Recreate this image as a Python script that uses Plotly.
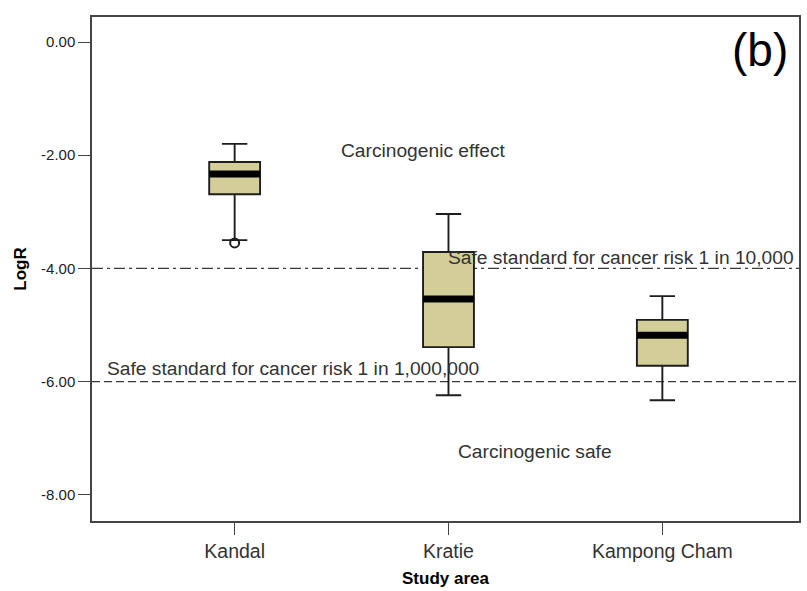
import plotly.graph_objects as go

# Study areas and LogR summary statistics for each box
areas = ["Kandal", "Kratie", "Kampong Cham"]
upper_whisker = [-1.80, -3.04, -4.49]
q3 = [-2.12, -3.71, -4.91]
median = [-2.33, -4.54, -5.18]
q1 = [-2.69, -5.39, -5.72]
lower_whisker = [-3.50, -6.24, -6.33]

# Outlying observations (area index, LogR)
outlier_area = [0]
outlier_value = [-3.55]

# Reference risk thresholds
risk_10k = -4.0
risk_1m = -6.0

y_ticks = [0, -2, -4, -6, -8]
y_tick_text = ["0.00", "-2.00", "-4.00", "-6.00", "-8.00"]

BOX_W = 0.238
FILL = "#d3ce98"
EDGE = "#1e1e1e"
FONT = "Liberation Sans, Arial, sans-serif"

xs = list(range(len(areas)))

fig = go.Figure()

fig.add_trace(go.Box(
    x=xs, q1=q1, median=median, q3=q3,
    lowerfence=lower_whisker, upperfence=upper_whisker,
    width=BOX_W, whiskerwidth=0.5,
    fillcolor=FILL, line=dict(color=EDGE, width=1.9),
    boxpoints=False, hoverinfo="skip", showlegend=False,
))

# Heavy median bars drawn over the boxes
for i, m in zip(xs, median):
    fig.add_trace(go.Scatter(
        x=[i - BOX_W / 2, i + BOX_W / 2], y=[m, m], mode="lines",
        line=dict(color="black", width=7), showlegend=False, hoverinfo="skip",
    ))

fig.add_trace(go.Scatter(
    x=outlier_area, y=outlier_value, mode="markers",
    marker=dict(symbol="circle-open", size=9, color=EDGE, line=dict(width=2, color=EDGE)),
    showlegend=False, hoverinfo="skip",
))

# Threshold lines (under the boxes)
fig.add_shape(type="line", xref="paper", x0=0, x1=1, yref="y", y0=risk_10k, y1=risk_10k,
              line=dict(color="#3a3a3a", width=1.2, dash="11px,4px,3px,4px"), layer="below")
fig.add_shape(type="line", xref="paper", x0=0, x1=1, yref="y", y0=risk_1m, y1=risk_1m,
              line=dict(color="#3a3a3a", width=1.2, dash="8px,4px"), layer="below")

txt = dict(family=FONT, size=19.2, color="#333333")
fig.add_annotation(x=0.881, y=-1.91, text="Carcinogenic effect", showarrow=False, font=txt)
fig.add_annotation(x=1.403, y=-7.23, text="Carcinogenic safe", showarrow=False, font=txt)
fig.add_annotation(x=0.988, y=risk_10k, yshift=11, xanchor="left",
                   text="Safe standard for cancer risk 1 in 10,000", showarrow=False, font=txt)
fig.add_annotation(x=-0.606, y=risk_1m, yshift=13, xanchor="left",
                   text="Safe standard for cancer risk 1 in 1,000,000", showarrow=False, font=txt)
fig.add_annotation(xref="paper", yref="paper", x=0.945, y=0.9345,
                   xanchor="center", yanchor="middle", text="(b)", showarrow=False,
                   font=dict(family=FONT, size=46, color="black"))

fig.update_layout(
    width=807, height=591,
    margin=dict(l=92, r=6, t=17, b=70),
    plot_bgcolor="white", paper_bgcolor="white",
    font=dict(family=FONT, color="#222222"),
)
fig.update_xaxes(
    range=[-0.667, 2.639], tickvals=xs, ticktext=areas,
    showgrid=False, zeroline=False,
    showline=True, mirror=True, linecolor="#444444", linewidth=1.5,
    ticks="outside", ticklen=12, tickwidth=1.3, tickcolor="#444444",
    tickfont=dict(family=FONT, size=19.5, color="#333333"),
    title=dict(text="<b>Study area</b>", font=dict(family=FONT, size=17, color="black"), standoff=11),
)
fig.update_yaxes(
    range=[-8.463, 0.442], tickvals=y_ticks, ticktext=y_tick_text,
    showgrid=False, zeroline=False,
    showline=True, mirror=True, linecolor="#444444", linewidth=1.5,
    ticks="outside", ticklen=12, tickwidth=1.3, tickcolor="#444444",
    tickfont=dict(family=FONT, size=15, color="#222222"),
    title=dict(text="<b>LogR</b>", font=dict(family=FONT, size=17, color="black"), standoff=10),
)

fig.write_html("out.html")
